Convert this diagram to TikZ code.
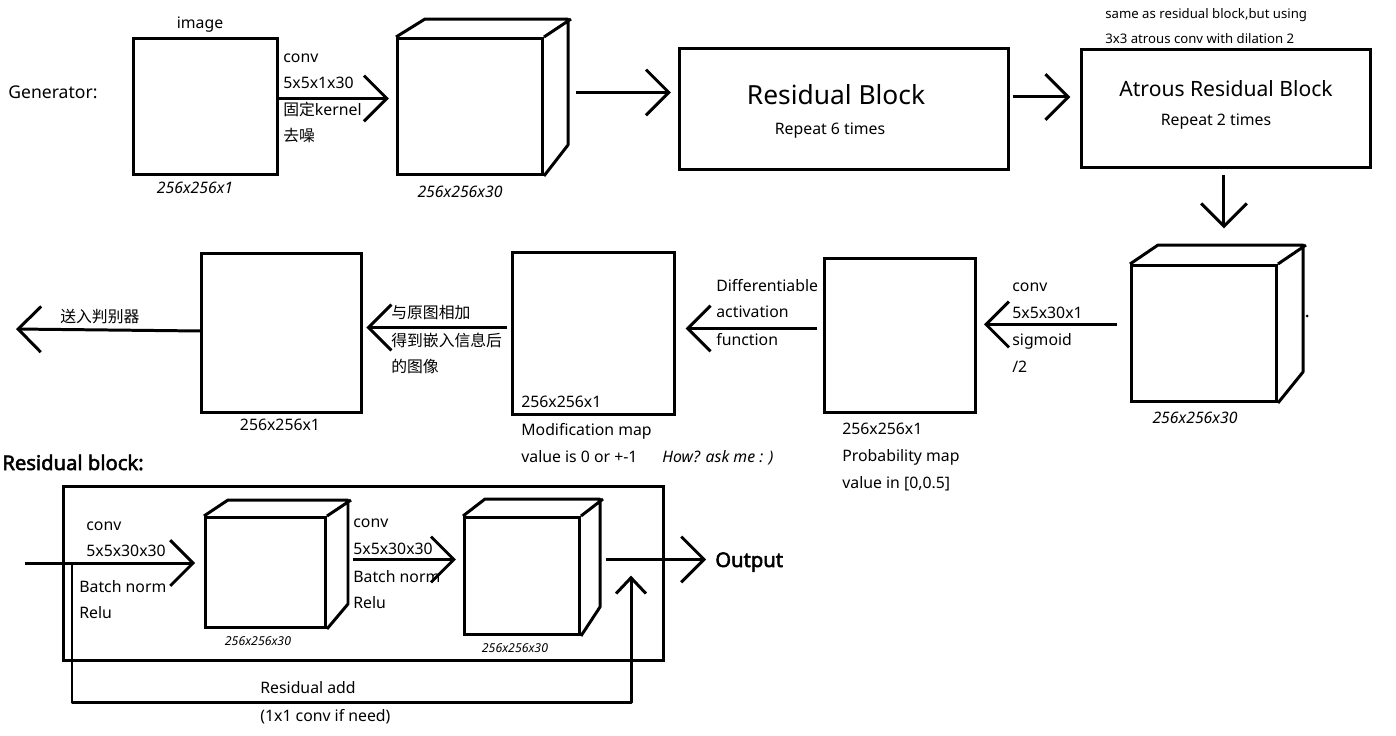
\documentclass[tikz,border=0pt]{standalone}
\usepackage{fontspec}
\setmainfont{Noto Sans}[AutoFakeBold=2.5]
\newfontfamily\cjk{Noto Sans CJK SC}
\usetikzlibrary{arrows.meta}

\newcommand{\txtsz}{\fontsize{9}{11}\selectfont}
\newcommand{\tinysz}{\fontsize{7}{8}\selectfont}

\begin{document}
\begin{tikzpicture}[x=0.02cm, y=-0.02cm, >={Straight Barb[length=13pt,width=26pt]},
    box/.style={draw, line width=1.7pt, inner sep=0pt, anchor=north west},
    edge/.style={line width=1.7pt, line join=round},
    flow/.style={edge, ->, shorten >=4pt},
    lbl/.style={anchor=base west, inner sep=0pt, font=\txtsz},
    dim/.style={anchor=base, inner sep=0pt, font=\txtsz\itshape}]
  \useasboundingbox (0,0) rectangle (1396,735);

  % generator, first row
  \node[anchor=base west, inner sep=0pt, font=\fontsize{10}{12}\selectfont] (gen) at (8,98) {Generator:};
  \node[box, minimum width=2.88cm, minimum height=2.72cm] (img) at (132,37) {};
  \node[anchor=base, inner sep=0pt, font=\txtsz] at (200,28) {image};
  \node[dim] at (195,193) {256x256x1};
  \node[lbl] at (283,62) {conv};
  \node[lbl] at (283,88) {5x5x1x30};
  \node[lbl] at (283,115) {{\cjk 固定}kernel};
  \node[lbl] at (283,141) {\cjk 去噪};

  \node[box, minimum width=2.9cm, minimum height=2.72cm] (c1) at (396,37) {};
  \draw[edge] (c1.north west) -- ++(29,-18) -- ++(143,0) -- ++(0,126) -- (c1.south east)
              (c1.north east) -- ++(27,-18);
  \node[dim] at (460,197) {256x256x30};

  \node[box, minimum width=6.58cm, minimum height=2.42cm] (res) at (678,47) {};
  \node[anchor=base, inner sep=0pt, font=\fontsize{15}{18}\selectfont] at (836,104) {Residual Block};
  \node[anchor=base, inner sep=0pt, font=\txtsz] at (830,134) {Repeat 6 times};

  \node[box, minimum width=5.78cm, minimum height=2.36cm] (atr) at (1080,48) {};
  \node[anchor=base, inner sep=0pt, font=\fontsize{12}{14}\selectfont] at (1226,96) {Atrous Residual Block};
  \node[anchor=base, inner sep=0pt, font=\txtsz] at (1216,125) {Repeat 2 times};
  \node[anchor=base west, inner sep=0pt, font=\fontsize{7.5}{9}\selectfont] at (1105,18) {same as residual block,but using};
  \node[anchor=base west, inner sep=0pt, font=\fontsize{7.5}{9}\selectfont] at (1105,43) {3x3 atrous conv with dilation 2};

  % second row
  \node[box, minimum width=2.9cm, minimum height=2.72cm] (c2) at (1130,264) {};
  \draw[edge] (c2.north west) -- ++(28,-19) coordinate (c2top) -- ++(145,0) -- ++(0,127) -- (c2.south east)
              (c2.north east) -- ++(28,-19);
  \fill (1307,316) circle (1.5);
  \node[dim] at (1195,423) {256x256x30};
  \node[lbl] at (1012,291) {conv};
  \node[lbl] at (1012,318) {5x5x30x1};
  \node[lbl] at (1012,345) {sigmoid};
  \node[lbl] at (1012,372) {/2};

  \node[box, minimum width=3.02cm, minimum height=3.08cm] (prob) at (823,257) {};
  \node[lbl] at (842,434) {256x256x1};
  \node[lbl] at (842,461) {Probability map};
  \node[lbl] at (842,488) {value in [0,0.5]};
  \node[lbl] at (716,291) {Differentiable};
  \node[lbl] at (716,317) {activation};
  \node[lbl] at (716,345) {function};

  \node[box, minimum width=3.24cm, minimum height=3.24cm] (mod) at (511,251) {};
  \node[lbl] at (521,407) {256x256x1};
  \node[lbl] at (521,435) {Modification map};
  \node[lbl] at (521,462) {value is 0 or +-1};
  \node[lbl, font=\txtsz\itshape] at (662,462) {How? ask me : )};
  \node[lbl, font=\txtsz\cjk] at (391,318) {与原图相加};
  \node[lbl, font=\txtsz\cjk] at (391,346) {得到嵌入信息后};
  \node[lbl, font=\txtsz\cjk] at (391,372) {的图像};

  \node[box, minimum width=3.2cm, minimum height=3.18cm] (out) at (200,252) {};
  \node[anchor=base, inner sep=0pt, font=\txtsz] at (280,430) {256x256x1};
  \node[lbl, font=\txtsz\cjk] at (60,322) {送入判别器};
  \coordinate (disc) at (16,329);

  % residual block
  \node[anchor=base west, inner sep=0pt, font=\fontsize{11.5}{13}\selectfont\bfseries] at (2,470) {Residual block:};
  \node[box, minimum width=12cm, minimum height=3.48cm] (frame) at (62,485) {};

  \node[box, minimum width=2.4cm, minimum height=2.2cm] (ca) at (204,516) {};
  \draw[edge] (ca.north west) -- ++(24,-16) -- ++(120,0) -- ++(0,104) -- (ca.south east)
              (ca.north east) -- ++(24,-16);
  \node[anchor=base, inner sep=0pt, font=\tinysz\itshape] at (258,645) {256x256x30};
  \node[lbl] at (86,530) {conv};
  \node[lbl] at (86,556) {5x5x30x30};
  \node[lbl] at (79,592) {Batch norm};
  \node[lbl] at (79,618) {Relu};

  \node[box, minimum width=2.3cm, minimum height=2.34cm] (cb) at (463,516) {};
  \draw[edge] (cb.north west) -- ++(22,-17) -- ++(115,0) -- ++(0,108) -- (cb.south east)
              (cb.north east) -- ++(22,-17);
  \node[anchor=base, inner sep=0pt, font=\tinysz\itshape] at (515,652) {256x256x30};
  \node[lbl] at (353,527) {conv};
  \node[lbl] at (353,554) {5x5x30x30};
  \node[lbl] at (353,582) {Batch norm};
  \node[lbl] at (353,608) {Relu};

  \node[anchor=base west, inner sep=0pt, font=\fontsize{11.5}{13}\selectfont\bfseries] (outp) at (715,567) {Output};
  \node[lbl] at (260,693) {Residual add};
  \node[lbl] at (260,721) {(1x1 conv if need)};
  \coordinate (rin) at (25,563);
  \coordinate (rskip) at (72,563);
  \coordinate (radd) at (631,558);

  % connectors
  \draw[flow] (img.east) ++(0,-8) coordinate (p) -- (c1.west |- p);
  \draw[flow] (c1.east) ++(32,-14) coordinate (p) -- (res.west |- p);
  \draw[flow, shorten >=5.5pt] (res.east) ++(3,-12) coordinate (p) -- (atr.west |- p);
  \draw[flow, shorten >=9.5pt] (atr.south) ++(-2,6) coordinate (p) -- (p |- c2top);
  \draw[flow] (c2.west) ++(-13,-9) coordinate (p) -- (prob.east |- p);
  \draw[flow, shorten >=5.5pt] (prob.west) ++(-6,-7) coordinate (p) -- (mod.east |- p);
  \draw[flow, shorten >=2pt] (mod.west) ++(-4,-6) coordinate (p) -- (out.east |- p);
  \draw[flow, shorten >=0pt] (out.west) ++(0,-2) -- (disc);
  \draw[flow, shorten >=5pt] (rin) -- (ca.west |- rin);
  \draw[flow] (ca.east) ++(26,-13) coordinate (p) -- (cb.west |- p);
  \draw[flow, shorten >=5pt] (cb.east) ++(25,-16.5) coordinate (p) -- (outp.west |- p);
  \draw[edge, -{Straight Barb[length=9pt,width=17pt]}, shorten >=10pt] (rskip) -- ++(0,139) -| (radd);
\end{tikzpicture}
\end{document}
